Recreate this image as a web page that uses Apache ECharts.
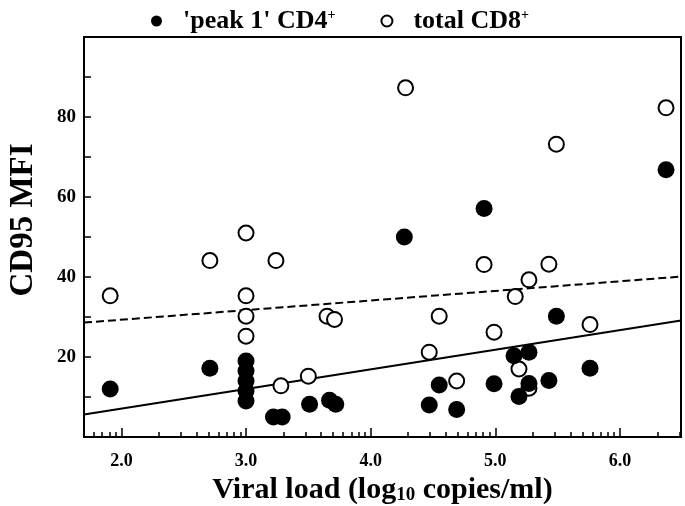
<!DOCTYPE html>
<html><head><meta charset="utf-8">
<script src="https://cdn.jsdelivr.net/npm/echarts@6/dist/echarts.min.js"></script>
<style>html,body{margin:0;padding:0;background:#fff}#c{width:685px;height:506px}</style>
</head><body><div id="c"></div>
<script>
// 'peak 1' CD4+ (filled circles)
const cd4X = [1.91, 2.71, 3.0, 3.0, 3.0, 3.0, 3.0, 3.22, 3.29, 3.51, 3.67, 3.72, 4.27, 4.47, 4.55, 4.69, 4.91, 4.99, 5.15, 5.19, 5.27, 5.27, 5.43, 5.49, 5.76, 6.37];
const cd4Y = [12.0, 17.2, 19.0, 16.5, 14.0, 11.5, 9.0, 5.0, 5.0, 8.2, 9.2, 8.2, 50.0, 8.0, 13.0, 6.9, 57.1, 13.3, 20.3, 10.1, 21.2, 13.4, 14.1, 30.2, 17.2, 66.8];
// total CD8+ (open circles)
const cd8X = [1.91, 2.71, 3.0, 3.0, 3.0, 3.0, 3.24, 3.28, 3.5, 3.65, 3.71, 4.28, 4.47, 4.55, 4.69, 4.91, 4.99, 5.16, 5.19, 5.27, 5.27, 5.43, 5.49, 5.76, 6.37];
const cd8Y = [35.3, 44.1, 51.0, 35.3, 30.2, 25.2, 44.1, 12.8, 15.2, 30.2, 29.4, 87.3, 21.2, 30.2, 14.0, 43.1, 26.2, 35.1, 17.0, 39.3, 12.2, 43.2, 73.2, 28.1, 82.3];
// regression lines (endpoints)
const fitX = [1.7, 6.49];
const cd4FitY = [5.6, 29.1];
const cd8FitY = [28.6, 40.1];
// axes
const xMin = 1.7, xMax = 6.49;
const yMin = 0, yMax = 100;
const xMajorTicks = [2, 3, 4, 5, 6];
const xMinorMultipliers = [2, 3, 4, 5, 6, 7, 8, 9];
const yTicks = [10, 20, 30, 40, 50, 60, 70, 80, 90];
const yLabelTicks = [20, 40, 60, 80];
const seriesNames = ["'peak 1' CD4", "total CD8"];
const xName = 'Viral load (log{sub|10} copies/ml)';
const yName = 'CD95 MFI';

const xMinorTicks = [];
for (let n = 1; n <= 6; n++) {
  xMinorMultipliers.forEach(k => {
    const v = n + Math.log10(k);
    if (v > xMin && v < xMax) xMinorTicks.push(v);
  });
}
const zip = (xs, ys) => xs.map((x, i) => [x, ys[i]]);
const FF = "'Liberation Serif', 'Times New Roman', serif";

const chart = echarts.init(document.getElementById('c'), null, {renderer: 'canvas'});
chart.setOption({
  animation: false,
  backgroundColor: '#fff',
  grid: {left: 84, right: 4, top: 37, bottom: 69, containLabel: false, outerBoundsMode: 'none',
    show: true, borderColor: '#000', borderWidth: 2, backgroundColor: 'transparent'},
  legend: {
    top: 3, left: 146, itemGap: 45, itemWidth: 11, itemHeight: 11,
    data: [{name: seriesNames[0], icon: 'circle'}, {name: seriesNames[1], icon: 'circle'}],
    formatter: n => n + '{sup|+}',
    textStyle: {fontFamily: FF, fontWeight: 'bold', fontSize: 26, color: '#000', padding: [0, 0, 0, 16],
      rich: {sup: {fontFamily: FF, fontWeight: 'bold', fontSize: 14, color: '#000', verticalAlign: 'top'}}}
  },
  xAxis: [{
    type: 'value', min: xMin, max: xMax, position: 'bottom',
    name: xName, nameLocation: 'middle', nameGap: 37,
    nameTextStyle: {fontFamily: FF, fontWeight: 'bold', fontSize: 30, color: '#000',
      rich: {sub: {fontFamily: FF, fontWeight: 'bold', fontSize: 19, color: '#000', verticalAlign: 'bottom'}}},
    axisLine: {show: true, onZero: false, lineStyle: {color: '#000', width: 2}},
    axisTick: {show: true, inside: true, length: 9, lineStyle: {color: '#000', width: 1.5}, customValues: xMajorTicks},
    axisLabel: {show: true, margin: 15, fontFamily: FF, fontWeight: 'bold', fontSize: 18, color: '#000',
      customValues: xMajorTicks, formatter: v => v.toFixed(1)},
    splitLine: {show: false}
  }, {
    type: 'value', min: xMin, max: xMax, position: 'bottom',
    axisLine: {show: false, onZero: false},
    axisTick: {show: true, inside: true, length: 5, lineStyle: {color: '#000', width: 1.5}, customValues: xMinorTicks},
    axisLabel: {show: false},
    splitLine: {show: false}
  }],
  yAxis: {
    type: 'value', min: yMin, max: yMax,
    name: yName, nameLocation: 'middle', nameGap: 44,
    nameTextStyle: {fontFamily: FF, fontWeight: 'bold', fontSize: 33, color: '#000', padding: [0, 0, 0, 34]},
    axisLine: {show: true, onZero: false, lineStyle: {color: '#000', width: 2}},
    axisTick: {show: true, inside: true, length: 7, lineStyle: {color: '#000', width: 1.5}, customValues: yTicks},
    axisLabel: {show: true, margin: 8, fontFamily: FF, fontWeight: 'bold', fontSize: 19, color: '#000', customValues: yLabelTicks},
    splitLine: {show: false}
  },
  series: [
    {type: 'line', data: zip(fitX, cd4FitY), symbol: 'none', silent: true, z: 1,
      lineStyle: {color: '#000', width: 2}},
    {type: 'line', data: zip(fitX, cd8FitY), symbol: 'none', silent: true, z: 1,
      lineStyle: {color: '#000', width: 2, type: [8, 4]}},
    {name: seriesNames[1], type: 'scatter', data: zip(cd8X, cd8Y), symbol: 'circle', symbolSize: 15, z: 2,
      itemStyle: {color: '#fff', borderColor: '#000', borderWidth: 2, opacity: 1}},
    {name: seriesNames[0], type: 'scatter', data: zip(cd4X, cd4Y), symbol: 'circle', symbolSize: 17, z: 3,
      itemStyle: {color: '#000', opacity: 1}}
  ]
});
</script></body></html>
